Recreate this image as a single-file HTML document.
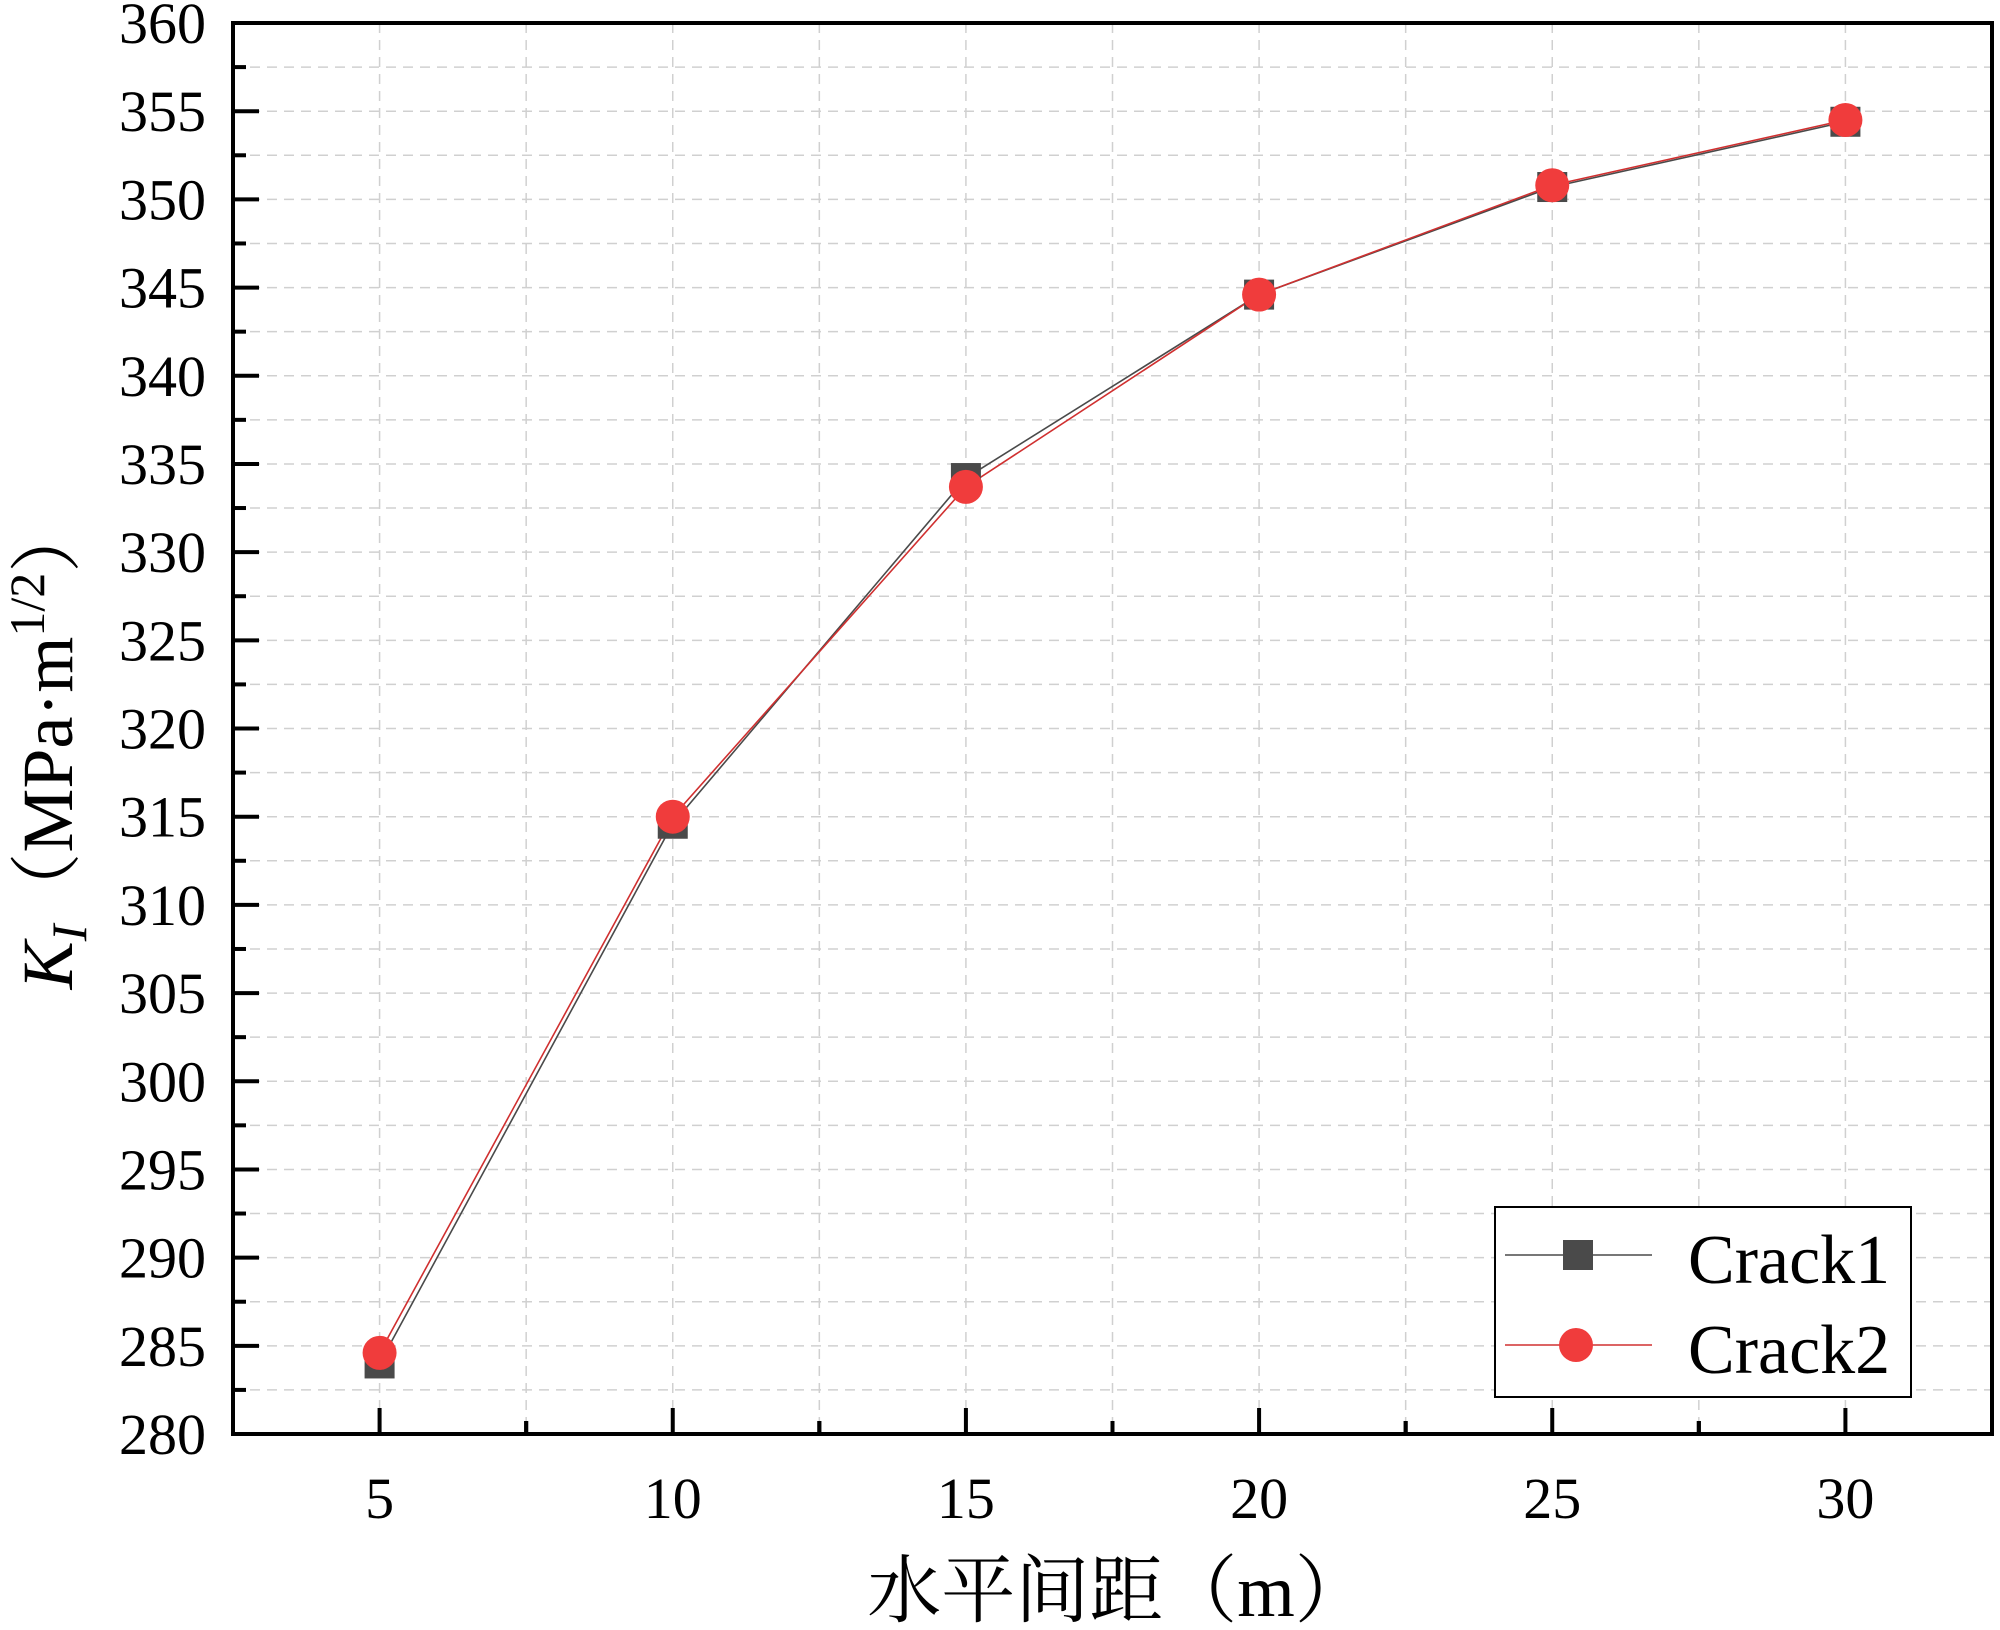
<!DOCTYPE html>
<html><head><meta charset="utf-8"><style>
html,body{margin:0;padding:0;background:#fff;}
svg{display:block;font-family:"Liberation Serif","Noto Serif CJK SC",serif;}
</style></head><body>
<svg id="chart" width="2000" height="1630" xmlns="http://www.w3.org/2000/svg">
<g id="grid"></g>
<g id="axes"></g>
<g id="series"></g>
<text x="1118" y="1616" font-size="74" text-anchor="middle">水平间距（m）</text>
<text transform="translate(72,745) rotate(-90)" font-size="72" text-anchor="middle"><tspan font-style="italic">K</tspan><tspan font-style="italic" font-size="50" dy="14">I</tspan><tspan dy="-14">（MPa·m</tspan><tspan font-size="50" dy="-28">1/2</tspan><tspan dy="28">）</tspan></text>
<g>
<rect x="1495" y="1207" width="416" height="190" fill="#fff" stroke="#000" stroke-width="2"/>
<g>
<line x1="1505" y1="1255" x2="1652" y2="1255" stroke="#4a4a4a" stroke-width="1.5"/>
<rect x="1563" y="1240" width="30" height="30" fill="#4a4a4a"/>
<text x="1688" y="1283" font-size="70">Crack1</text></g>
<g>
<line x1="1505" y1="1345" x2="1652" y2="1345" stroke="#d03030" stroke-width="1.5"/>
<circle cx="1576" cy="1345" r="17" fill="#f03c3c"/>
<text x="1688" y="1373" font-size="70">Crack2</text></g>
</g>
</svg>
<script>
const xCats=[5,10,15,20,25,30];
const crack1=[284.0,314.6,334.2,344.6,350.7,354.4];
const crack2=[284.6,315.0,333.7,344.6,350.8,354.5];
const yTicks=[280,285,290,295,300,305,310,315,320,325,330,335,340,345,350,355,360];
const xTicks=[5,10,15,20,25,30];
const L=233,R=1992,T=23,B=1434,X0=2.5,X1=32.5,Y0=280,Y1=360;
const sx=v=>L+(v-X0)/(X1-X0)*(R-L);
const sy=v=>B-(v-Y0)/(Y1-Y0)*(B-T);
const NS="http://www.w3.org/2000/svg";
function mk(t,a,p){const e=document.createElementNS(NS,t);for(const k in a)e.setAttribute(k,a[k]);p.appendChild(e);return e;}
const grid=document.getElementById('grid'),axes=document.getElementById('axes'),ser=document.getElementById('series');
for(let v=Y0+2.5;v<Y1;v+=2.5){const l=mk('line',{x1:L,x2:R,y1:sy(v),y2:sy(v),stroke:'#d0d0d0','stroke-width':1.5,'stroke-dasharray':'10 7'},grid);

}
for(let v=X0+2.5;v<X1;v+=2.5){const l=mk('line',{x1:sx(v),x2:sx(v),y1:T,y2:B,stroke:'#d0d0d0','stroke-width':1.5,'stroke-dasharray':'10 7'},grid);

}
const frame=mk('rect',{x:L,y:T,width:R-L,height:B-T,fill:'none',stroke:'#000','stroke-width':4},axes);


yTicks.forEach(v=>{const y=sy(v);mk('line',{x1:L,x2:L+26,y1:y,y2:y,stroke:'#000','stroke-width':4},axes);
if(v<Y1)mk('line',{x1:L,x2:L+13,y1:sy(v+2.5),y2:sy(v+2.5),stroke:'#000','stroke-width':4},axes);
const t=mk('text',{x:L-27,y:y+20,'font-size':58,'text-anchor':'end'},axes);t.textContent=v;

});
xTicks.forEach(v=>{const x=sx(v);mk('line',{x1:x,x2:x,y1:B,y2:B-26,stroke:'#000','stroke-width':4},axes);
mk('line',{x1:sx(v+2.5),x2:sx(v+2.5),y1:B,y2:B-13,stroke:'#000','stroke-width':4},axes);
mk('line',{x1:sx(v-2.5),x2:sx(v-2.5),y1:B,y2:B-13,stroke:'#000','stroke-width':4},axes);
const t=mk('text',{x:x,y:B+84,'font-size':58,'text-anchor':'middle'},axes);t.textContent=v;

});
function line(data,col,name){const p=mk('polyline',{points:data.map((v,i)=>sx(xCats[i])+','+sy(v)).join(' '),fill:'none',stroke:col,'stroke-width':1.6},ser);

}
line(crack1,'#4a4a4a','crack1-line');
line(crack2,'#d03030','crack2-line');
crack1.forEach((v,i)=>{const r=mk('rect',{x:sx(xCats[i])-15,y:sy(v)-15,width:30,height:30,fill:'#4a4a4a'},ser);

});
crack2.forEach((v,i)=>{const c=mk('circle',{cx:sx(xCats[i]),cy:sy(v),r:17,fill:'#f03c3c'},ser);

});
</script>
</body></html>
